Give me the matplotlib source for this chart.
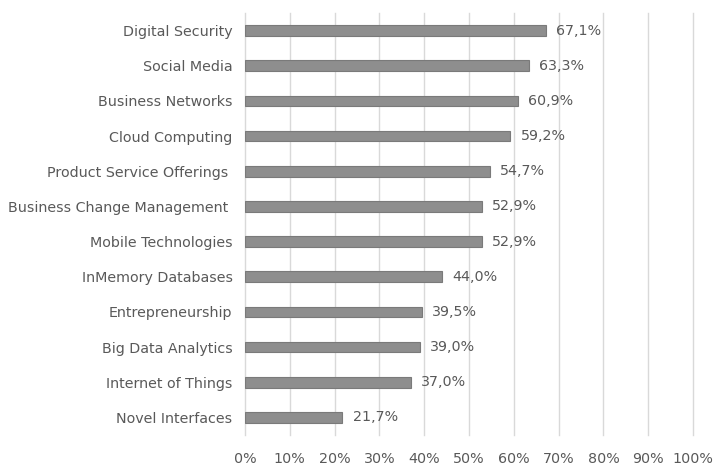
import matplotlib
matplotlib.use("Agg")
import matplotlib.pyplot as plt

categories = ["Digital Security", "Social Media", "Business Networks", "Cloud Computing",
              "Product Service Offerings ", "Business Change Management ", "Mobile Technologies",
              "InMemory Databases", "Entrepreneurship", "Big Data Analytics",
              "Internet of Things", "Novel Interfaces"]
values = [67.1, 63.3, 60.9, 59.2, 54.7, 52.9, 52.9, 44.0, 39.5, 39.0, 37.0, 21.7]
xticks = [0, 10, 20, 30, 40, 50, 60, 70, 80, 90, 100]

plt.rcParams['font.family'] = ['DejaVu Sans']
text_color = '#595959'
fs = 10.3

fig = plt.figure(figsize=(7.28, 4.69), dpi=100)
ax = fig.add_axes([245/728, 1-435/469, (693-245)/728, (435-13)/469])

n = len(categories)
ypos = list(range(n))[::-1]
ax.barh(ypos, values, height=0.3, color='#8e8e8e', edgecolor='#7a7a7a', linewidth=0.8, zorder=3)
for y, v in zip(ypos, values):
    ax.text(v + 2.3, y, f"{v:.1f}%".replace('.', ','), va='center', ha='left',
            fontsize=fs, color=text_color)

ax.set_xlim(0, 100)
ax.set_ylim(-0.5, n - 0.5)
ax.set_xticks(xticks)
ax.set_xticklabels([f"{t}%" for t in xticks], fontsize=fs, color=text_color)
ax.set_yticks(ypos)
ax.set_yticklabels(categories, fontsize=fs, color=text_color)
ax.tick_params(axis='both', length=0)
ax.tick_params(axis='x', pad=12)
ax.tick_params(axis='y', pad=9)
ax.grid(axis='x', color='#d9d9d9', linewidth=1, zorder=0)
for gl in ax.get_xgridlines():
    gl.set_clip_on(False)
for s in ax.spines.values():
    s.set_visible(False)

fig.savefig("out.png", dpi=100)
